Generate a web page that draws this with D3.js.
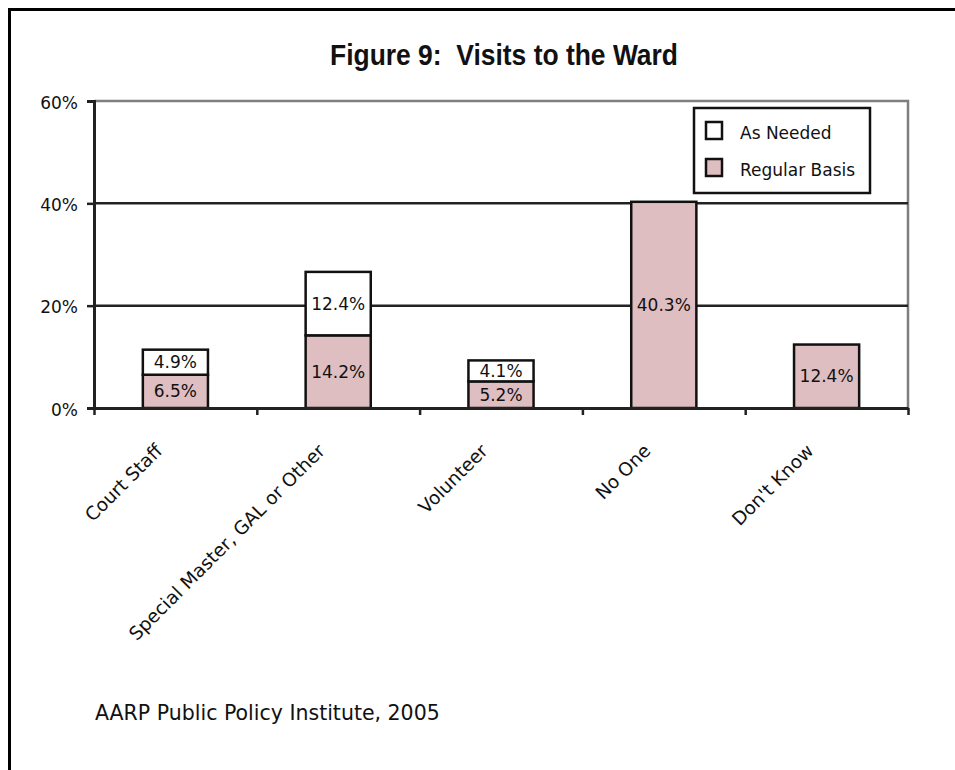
<!DOCTYPE html>
<html>
<head>
<meta charset="utf-8">
<script src="https://cdn.jsdelivr.net/npm/d3@7"></script>
<style>
  html, body { margin: 0; padding: 0; background: #fff; overflow: hidden; }
  svg { display: block; overflow: hidden; }
  text { font-family: "DejaVu Sans", sans-serif; fill: #111; }
</style>
</head>
<body>
<svg id="chart" width="955" height="770"></svg>
<script>
const categories = ["Court Staff", "Special Master, GAL or Other", "Volunteer", "No One", "Don't Know"];
const regularBasis = [6.5, 14.2, 5.2, 40.3, 12.4];
const asNeeded = [4.9, 12.4, 4.1, 0, 0];
const seriesNames = ["Regular Basis", "As Needed"];
const yTicks = [0, 20, 40, 60];
const titleText = "Figure 9:  Visits to the Ward";
const sourceText = "AARP Public Policy Institute, 2005";

const colors = { "Regular Basis": "#dfbec1", "As Needed": "#ffffff" };

const svg = d3.select("#chart");
const plot = { left: 94, right: 908, top: 101, bottom: 408 };

// outer frame (left and top edges visible)
svg.append("path").attr("d", "M9.5,790V9.5H970")
  .attr("fill", "none").attr("stroke", "#000").attr("stroke-width", 3);

// title
svg.append("text").attr("x", 330).attr("y", 65)
  .attr("textLength", 348).attr("lengthAdjust", "spacingAndGlyphs")
  .style("white-space", "pre")
  .style("font-family", "'Liberation Sans', Arial, sans-serif")
  .style("font-weight", "bold").style("font-size", "29px").text(titleText);

const x = d3.scaleBand().domain(categories).range([plot.left, plot.right])
  .paddingInner(0.6).paddingOuter(0.3);
const xEdges = d3.scaleLinear().domain([0, categories.length]).range([plot.left, plot.right]);
const y = d3.scaleLinear().domain([0, 60]).range([plot.bottom, plot.top]);

// plot border top/right (gray)
svg.append("path")
  .attr("d", `M${plot.left},${y(60)}H${plot.right}V${plot.bottom}`)
  .attr("fill", "none").attr("stroke", "#7f7f7f").attr("stroke-width", 2.5);

// gridlines
svg.append("g").selectAll("line").data(yTicks.filter(d => d > 0 && d < 60)).join("line")
  .attr("x1", plot.left).attr("x2", plot.right)
  .attr("y1", d => y(d)).attr("y2", d => y(d))
  .attr("stroke", "#222").attr("stroke-width", 2.5);

// stacked bars
const table = categories.map((c, i) => ({ cat: c, "Regular Basis": regularBasis[i], "As Needed": asNeeded[i] }));
const stacked = d3.stack().keys(seriesNames)(table);

const barG = svg.append("g");
stacked.forEach(layer => {
  layer.forEach(seg => {
    const v = seg[1] - seg[0];
    if (v <= 0) return;
    const cat = seg.data.cat;
    barG.append("rect")
      .attr("x", x(cat)).attr("width", x.bandwidth())
      .attr("y", y(seg[1])).attr("height", y(seg[0]) - y(seg[1]))
      .attr("fill", colors[layer.key]).attr("stroke", "#111").attr("stroke-width", 2.5);
  });
});
stacked.forEach(layer => {
  layer.forEach(seg => {
    const v = seg[1] - seg[0];
    if (v <= 0) return;
    const cat = seg.data.cat;
    barG.append("text")
      .attr("x", x(cat) + x.bandwidth() / 2)
      .attr("y", (y(seg[0]) + y(seg[1])) / 2)
      .attr("dy", "0.36em")
      .attr("text-anchor", "middle").style("font-size", "17px")
      .text(d3.format(".1f")(v) + "%");
  });
});

// y axis
const yAxis = svg.append("g").attr("transform", `translate(${plot.left},0)`)
  .call(d3.axisLeft(y).tickValues(yTicks).tickSize(7).tickPadding(9).tickFormat(d => d + "%"));
yAxis.select(".domain").attr("stroke", "#222").attr("stroke-width", 3);
yAxis.selectAll(".tick line").attr("stroke", "#222").attr("stroke-width", 2.5);
yAxis.selectAll(".tick text").style("font-size", "17px").style("font-family", "'DejaVu Sans', sans-serif")
  .attr("fill", "#111").attr("dy", "0.42em");

// x axis
const xAxis = svg.append("g").attr("transform", `translate(0,${plot.bottom})`)
  .call(d3.axisBottom(xEdges).tickValues(d3.range(categories.length + 1)).tickSize(7).tickSizeOuter(0).tickFormat(""));
xAxis.select(".domain").attr("stroke", "#222").attr("stroke-width", 3);
xAxis.selectAll(".tick line").attr("stroke", "#222").attr("stroke-width", 2.5);

// category labels
svg.append("g").selectAll("text").data(categories).join("text")
  .attr("transform", d => `translate(${x(d) + x.bandwidth() / 2 - 12},452) rotate(-45)`)
  .attr("text-anchor", "end").style("font-size", "18.5px")
  .text(d => d);

// legend
const lg = svg.append("g");
lg.append("rect").attr("x", 694).attr("y", 108).attr("width", 176).attr("height", 85)
  .attr("fill", "#fff").attr("stroke", "#111").attr("stroke-width", 2.5);
const legendItems = ["As Needed", "Regular Basis"];
legendItems.forEach((name, i) => {
  lg.append("rect").attr("x", 706).attr("y", 122 + i * 37).attr("width", 16).attr("height", 17)
    .attr("fill", colors[name]).attr("stroke", "#111").attr("stroke-width", 2.5);
  lg.append("text").attr("x", 740).attr("y", 139 + i * 37).style("font-size", "17px").text(name);
});

// source
svg.append("text").attr("x", 95).attr("y", 720).style("font-size", "20.5px").text(sourceText);
</script>
</body>
</html>
